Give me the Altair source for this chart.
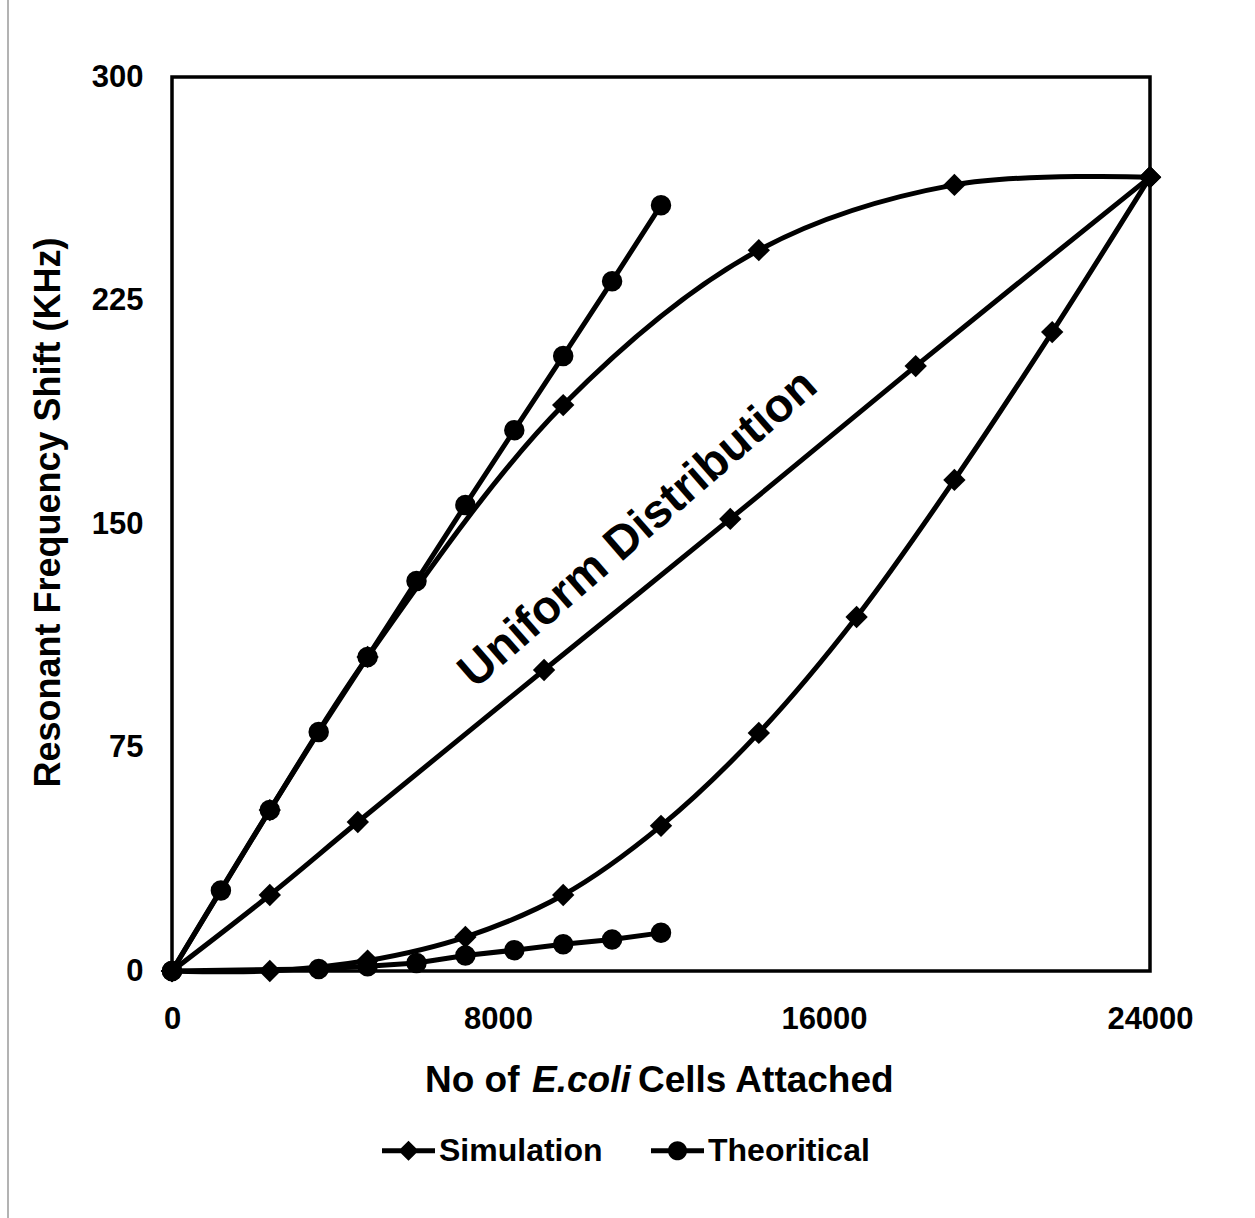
import altair as alt
import pandas as pd

# ---------------- data ----------------
sim_upper_x = [0, 2400, 4800, 9600, 14400, 19200, 24000]
sim_upper_y = [0, 54.0, 105.4, 189.9, 241.9, 263.8, 266.4]

sim_uniform_x = [0, 2400, 4560, 9130, 13700, 18250, 24000]
sim_uniform_y = [0, 25.5, 50.0, 101.0, 151.7, 203.0, 266.4]

sim_lower_x = [0, 2400, 4800, 7200, 9600, 12000, 14400, 16800, 19200, 21600, 24000]
sim_lower_y = [0, 0.0, 3.5, 11.4, 25.5, 48.7, 79.9, 118.8, 164.8, 214.4, 266.4]

theo_upper_x = [0, 1200, 2400, 3600, 4800, 6000, 7200, 8400, 9600, 10800, 12000]
theo_upper_y = [0, 27.0, 54.0, 80.2, 105.4, 130.9, 156.4, 181.5, 206.4, 231.5, 257.0]

theo_lower_x = [0, 3600, 4800, 6000, 7200, 8400, 9600, 10800, 12000]
theo_lower_y = [0, 0.7, 1.6, 2.7, 5.2, 7.0, 9.0, 10.6, 12.8]

legend_labels = ["Simulation", "Theoritical"]
x_ticks = [0, 8000, 16000, 24000]
y_ticks = [0, 75, 150, 225, 300]
annotation_text = ["Uniform Distribution"]
annotation_x = [11440]
annotation_y = [148.3]

FONT = "Liberation Sans"

# ---------------- build table ----------------
rows = []
def add(xs, ys, series, kind, smooth):
    for xv, yv in zip(xs, ys):
        rows.append({"x": xv, "y": yv, "series": series, "type": kind, "smooth": smooth})

add(sim_upper_x, sim_upper_y, "sim_upper", "Simulation", True)
add(sim_uniform_x, sim_uniform_y, "sim_uniform", "Simulation", True)
add(sim_lower_x, sim_lower_y, "sim_lower", "Simulation", True)
add(theo_upper_x, theo_upper_y, "theo_upper", "Theoritical", False)
add(theo_lower_x, theo_lower_y, "theo_lower", "Theoritical", False)
df = pd.DataFrame(rows)

xscale = alt.Scale(domain=[0, 24000], nice=False)
yscale = alt.Scale(domain=[0, 300], nice=False)

xenc = alt.X("x:Q", scale=xscale,
             axis=alt.Axis(values=x_ticks, format="d", title=None, grid=False, ticks=False,
                           domain=False, labelFlush=False, labelFont=FONT, labelFontSize=31,
                           labelFontWeight="bold", labelColor="black", labelPadding=33))
yenc = alt.Y("y:Q", scale=yscale,
             axis=alt.Axis(values=y_ticks, title="Resonant Frequency Shift (KHz)", grid=False,
                           ticks=False, domain=False, labelFlush=False, labelFont=FONT,
                           labelFontSize=31, labelFontWeight="bold", labelColor="black",
                           labelPadding=29, titleFont=FONT, titleFontSize=36,
                           titleFontWeight="bold", titleColor="black", titleX=-124, titleY=435,
                           titleAngle=270, titleAlign="center", titleBaseline="middle"))

base = alt.Chart(df)

lines_smooth = base.transform_filter("datum.smooth").mark_line(
    interpolate="catmull-rom", color="black", strokeWidth=5, clip=False
).encode(x=xenc, y=yenc, detail="series:N", order="x:Q")

lines_straight = base.transform_filter("!datum.smooth").mark_line(
    interpolate="linear", color="black", strokeWidth=5, clip=False
).encode(x=xenc, y=yenc, detail="series:N", order="x:Q")

points = base.mark_point(filled=True, opacity=1, color="black", strokeWidth=0, clip=False).encode(
    x=xenc, y=yenc,
    shape=alt.Shape("type:N", scale=alt.Scale(domain=legend_labels, range=["diamond", "circle"]), legend=None),
    size=alt.Size("type:N", scale=alt.Scale(domain=legend_labels, range=[500, 420]), legend=None),
)

# legend symbols: line with marker in the middle
diamond_path = ("M-1,-0.094 L-0.286,-0.094 L0,-0.38 L0.286,-0.094 L1,-0.094 "
                "L1,0.094 L0.286,0.094 L0,0.38 L-0.286,0.094 L-1,0.094 Z")
circle_path = ("M-1,-0.094 L-0.348,-0.094 A0.36,0.36 0 0 1 0.348,-0.094 L1,-0.094 "
               "L1,0.094 L0.348,0.094 A0.36,0.36 0 0 1 -0.348,0.094 L-1,0.094 Z")

legend_df = pd.DataFrame({"type": legend_labels})
legend_layer = alt.Chart(legend_df).mark_point(filled=True, opacity=0, color="black").encode(
    x=alt.value(0), y=alt.value(0),
    shape=alt.Shape("type:N",
                    scale=alt.Scale(domain=legend_labels, range=[diamond_path, circle_path]),
                    legend=alt.Legend(title=None, orient="none", legendX=210, legendY=1047,
                                      direction="horizontal", symbolSize=2809,
                                      symbolFillColor="black", symbolStrokeColor="black",
                                      symbolStrokeWidth=0, symbolOpacity=1,
                                      labelFont=FONT, labelFontSize=32, labelFontWeight="bold",
                                      labelColor="black", labelOffset=4, columnPadding=48,
                                      labelLimit=400)),
)

ann_df = pd.DataFrame({"t": annotation_text, "x": annotation_x, "y": annotation_y})
annotation = alt.Chart(ann_df).mark_text(
    angle=319, font=FONT, fontSize=47, fontWeight="bold", color="black",
    align="center", baseline="middle"
).encode(x=alt.X("x:Q", scale=xscale), y=alt.Y("y:Q", scale=yscale), text="t:N")

# x-axis title with italic E.coli
title_parts = ["No of", "E.coli", "Cells Attached"]
title_styles = ["normal", "italic", "normal"]
title_left = [253, 360, 466]
title_layers = []
for txt, sty, xl in zip(title_parts, title_styles, title_left):
    title_layers.append(
        alt.Chart(pd.DataFrame({"t": [txt]})).mark_text(
            font=FONT, fontSize=37, fontWeight="bold", fontStyle=sty, color="black",
            align="left", baseline="alphabetic"
        ).encode(x=alt.value(xl), y=alt.value(1015), text="t:N")
    )

frame = alt.Chart(pd.DataFrame({"a": [0]})).mark_rule(color="#9a9a9a", strokeWidth=1.5).encode(
    x=alt.value(-164), y=alt.value(-77), y2=alt.value(1141)
)

chart = alt.layer(
    frame, lines_smooth, lines_straight, points, legend_layer, annotation, *title_layers
).resolve_scale(shape="independent", size="independent").properties(
    width=978, height=894,
    padding={"left": 172, "top": 77, "right": 105, "bottom": 247},
    autosize="none",
    background="white",
).configure_view(stroke="black", strokeWidth=3.5)

chart.save("out.html", embed_options={"renderer": "svg", "actions": False})
